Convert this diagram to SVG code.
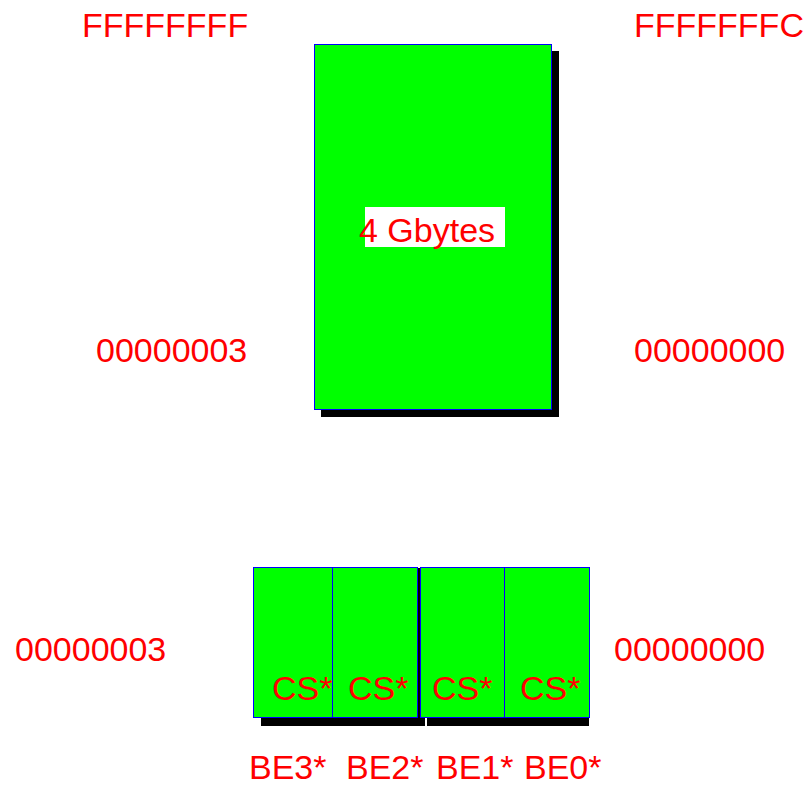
<svg xmlns="http://www.w3.org/2000/svg" width="806" height="785" viewBox="0 0 806 785">
<style>
.lbl{font-family:"Liberation Sans",Arial,sans-serif;font-size:34px;fill:#ff0000}
.box{fill:#00ff00;stroke:#0000ff;stroke-width:1}
.shadow{fill:#000000}
</style>
<rect width="806" height="785" fill="#ffffff"/>
<g id="memory">
<rect class="shadow" x="321" y="51" width="238" height="366"/>
<rect class="box" x="314.5" y="44.5" width="237" height="365"/>
<rect x="365" y="207" width="140" height="40" fill="#ffffff"/>
<text class="lbl" x="359" y="242">4 Gbytes</text>
</g>
<g id="addresses-top">
<text class="lbl" x="82" y="37">FFFFFFFF</text>
<text class="lbl" x="634" y="37">FFFFFFFC</text>
<text class="lbl" x="96" y="362">00000003</text>
<text class="lbl" x="634" y="362">00000000</text>
</g>
<g id="addresses-bottom">
<text class="lbl" x="15" y="661">00000003</text>
<text class="lbl" x="614" y="661">00000000</text>
</g>
<g id="shadows">
<rect class="shadow" x="261" y="718" width="164" height="8"/>
<rect class="shadow" x="418" y="568" width="2" height="150"/>
<rect class="shadow" x="427" y="718" width="162" height="8"/>
</g>
<g id="byte3">
<rect class="box" x="253.5" y="567.5" width="79" height="150"/>
<text class="lbl" x="272" y="700">CS*</text>
</g>
<g id="byte2">
<rect class="box" x="332.5" y="567.5" width="85" height="150"/>
<text class="lbl" x="348" y="700">CS*</text>
</g>
<g id="byte1">
<rect class="box" x="420.5" y="567.5" width="84" height="150"/>
<text class="lbl" x="432" y="700">CS*</text>
</g>
<g id="byte0">
<rect class="box" x="504.5" y="567.5" width="85" height="150"/>
<text class="lbl" x="520" y="700">CS*</text>
</g>
<g id="byte-enables">
<text class="lbl" x="249" y="779">BE3*</text>
<text class="lbl" x="346" y="779">BE2*</text>
<text class="lbl" x="436" y="779">BE1*</text>
<text class="lbl" x="524" y="779">BE0*</text>
</g>
<g id="connectors"></g>
</svg>
